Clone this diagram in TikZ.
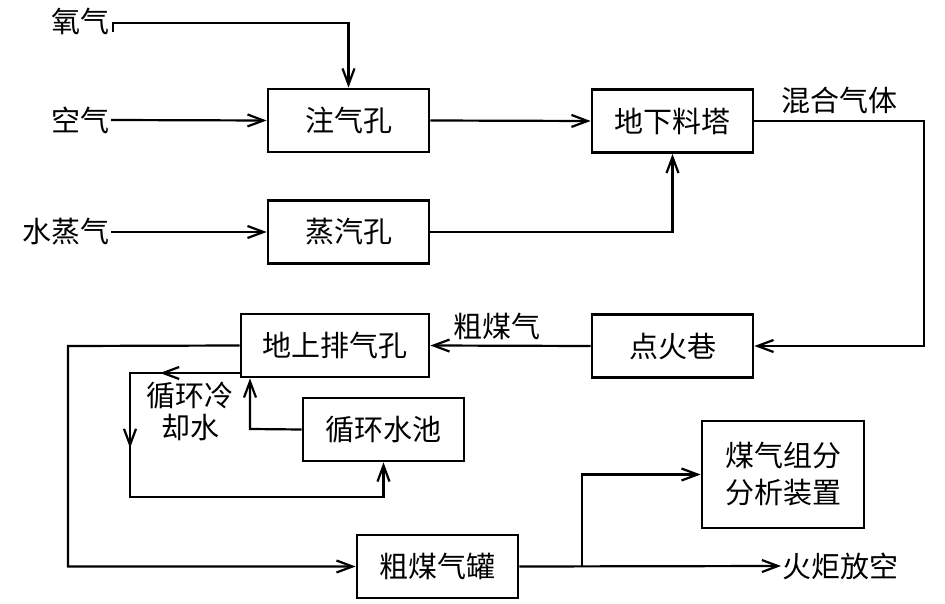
\documentclass[tikz,border=0pt]{standalone}
\usepackage{fontspec}
\newfontfamily\cjk{Noto Sans CJK SC}
\usetikzlibrary{arrows.meta}

\begin{document}
\begin{tikzpicture}[x=1pt, y=-1pt,
  font=\cjk\fontsize{29}{34}\selectfont,
  line width=2.2pt,
  >={Straight Barb[length=16pt,width=12pt,line width=2.2pt]},
  proc/.style={draw, line width=2.8pt, minimum width=161pt, minimum height=63pt, inner sep=0pt, align=center},
  lab/.style={inner sep=0pt}]

\useasboundingbox (0,0) rectangle (945,604);

% process boxes
\node[proc] (zqk) at (348.5,120.5) {注气孔};
\node[proc] (zhk) at (348.5,232) {蒸汽孔};
\node[proc] (dxlt) at (672.5,121) {地下料塔};
\node[proc] (dhx) at (672.5,346) {点火巷};
\node[proc, minimum width=188pt] (dspk) at (335,345.5) {地上排气孔};
\node[proc] (xhsc) at (383.5,429.5) {循环水池};
\node[proc] (cmqg) at (437.5,566.5) {粗煤气罐};
\node[proc, minimum width=162pt, minimum height=107pt, font=\cjk\fontsize{29}{37}\selectfont] (fxzz) at (783,474.5) {煤气组分\\分析装置};

% labels
\node[lab, anchor=east] (o2) at (111,21) {氧气};
\node[lab, anchor=east] (air) at (111,120) {空气};
\node[lab, anchor=east] (steam) at (111,232) {水蒸气};
\node[lab] (mix) at (839,100) {混合气体};
\node[lab] (cmq) at (497,326) {粗煤气};
\node[lab, align=center, font=\cjk\fontsize{29}{32}\selectfont] (lqs) at (190,411) {循环冷\\却水};
\node[lab, anchor=west] (hj) at (781,566) {火炬放空};

% inputs
\coordinate (o2in) at (113,32);
\coordinate (o2top) at (348.5,23);
\draw[->] (o2in) |- (o2top) -- (zqk.north);
\draw[->] (air.east) -- (zqk.west);
\draw[->] (steam.east) -- (zhk.west);
\draw[->] (zqk.east) -- (dxlt.west);
\draw[->] (zhk.east) -| (dxlt.south);

% gas loop
\coordinate (rt) at (924,121);
\draw[->] (dxlt.east) -- (rt) |- (dhx.east);
\draw[->] (dhx.west) -- (dspk.east);
\coordinate (lt) at (68,346);
\draw[->] (dspk.west) -- (lt) |- (cmqg.west);

% cooling water
\coordinate (cw1) at (241,373);
\coordinate (cw2) at (130,373);
\coordinate (cw3) at (130,497);
\coordinate (cwa) at (160,373);
\coordinate (cwb) at (130,448);
\draw[->] (cw1) -- (cw2) -- (cw3) -| (xhsc.south);
\draw[->] (cw1) -- (cwa);
\draw[->] (cw2) -- (cwb);
\coordinate (ret) at (250,429);
\draw[->] (xhsc.west) -- (ret) -- (ret |- dspk.south);

% outputs
\coordinate (br) at (582,566);
\draw[->] (cmqg.east) -- (hj.west);
\draw[->] (br) |- (fxzz.west);

\end{tikzpicture}
\end{document}
